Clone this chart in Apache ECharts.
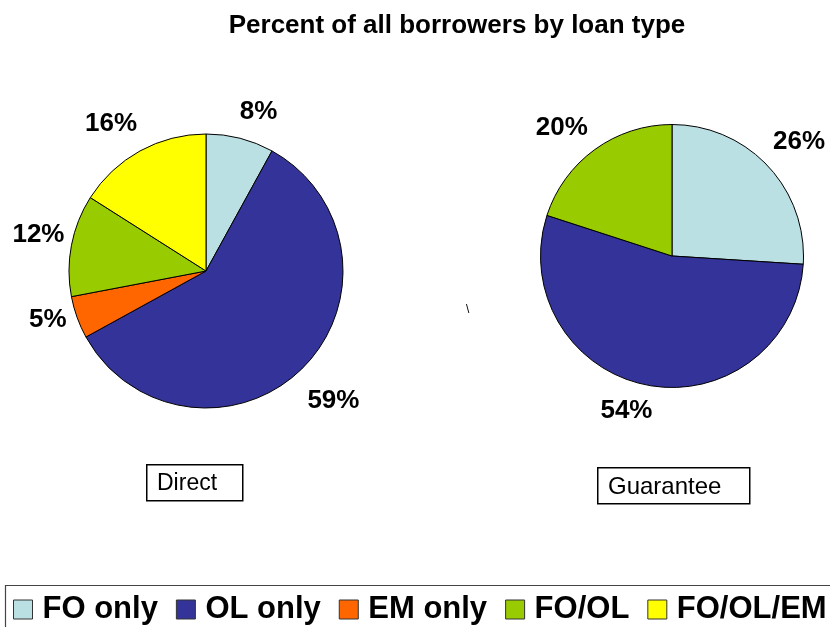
<!DOCTYPE html>
<html>
<head>
<meta charset="utf-8">
<script src="https://cdn.jsdelivr.net/npm/echarts@6/dist/echarts.min.js"></script>
<style>
html,body{margin:0;padding:0;background:#fff;}
#chart{width:830px;height:627px;}
</style>
</head>
<body>
<div id="chart"></div>
<script>
// ---- data ----
var categories = ['FO only', 'OL only', 'EM only', 'FO/OL', 'FO/OL/EM'];
var directValues = [8, 59, 5, 12, 16];
var guaranteeCategories = ['FO only', 'OL only', 'FO/OL'];
var guaranteeValues = [26, 54, 20];
var chartTitle = 'Percent of all borrowers by loan type';
var panelTitles = ['Direct', 'Guarantee'];

// ---- style ----
var colors = {
  'FO only': '#BBE0E3',
  'OL only': '#333399',
  'EM only': '#FF6600',
  'FO/OL': '#99CC00',
  'FO/OL/EM': '#FFFF00'
};
// label placement tweaks (labelLine length / length2), per slice
var directLabelOffsets = [[27, -7], [46, -28], [8, 3], [58, -50], [31, -12]];
var guaranteeLabelOffsets = [[36, -21], [26, -10], [27, -9]];

var FONT = '"Liberation Sans", Arial, sans-serif';

function buildData(names, values, offsets) {
  return names.map(function (n, i) {
    return {
      name: n,
      value: values[i],
      itemStyle: { color: colors[n] },
      labelLine: { show: false, length: offsets[i][0], length2: offsets[i][1] }
    };
  });
}

var pieCommon = {
  type: 'pie',
  startAngle: 90,
  clockwise: true,
  avoidLabelOverlap: false,
  animation: false,
  silent: true,
  itemStyle: { borderColor: '#000', borderWidth: 1 },
  label: {
    show: true,
    position: 'outside',
    formatter: function (p) { return Math.round(p.percent) + '%'; },
    fontFamily: FONT,
    fontWeight: 'bold',
    fontSize: 26,
    color: '#000',
    distanceToLabelLine: 0
  },
  labelLine: { show: false },
  emphasis: { disabled: true }
};

var chart = echarts.init(document.getElementById('chart'), null, { renderer: 'canvas' });
chart.setOption({
  backgroundColor: '#fff',
  animation: false,
  title: {
    text: chartTitle,
    left: 457,
    textAlign: 'center',
    top: 13,
    padding: 0,
    textStyle: { fontFamily: FONT, fontWeight: 'bold', fontSize: 26, color: '#000' }
  },
  legend: {
    data: categories,
    left: 13,
    top: 594,
    width: 1200,
    padding: 0,
    orient: 'horizontal',
    icon: 'rect',
    itemWidth: 19,
    itemHeight: 19,
    itemGap: 18,
    itemStyle: { borderColor: '#333', borderWidth: 1 },
    textStyle: { fontFamily: FONT, fontWeight: 'bold', fontSize: 31, color: '#000', padding: [0, 0, 0, 5], lineHeight: 30 },
    selectedMode: false
  },
  series: [
    Object.assign({}, pieCommon, {
      name: 'Direct',
      center: [206, 271],
      radius: [0, 137],
      data: buildData(categories, directValues, directLabelOffsets)
    }),
    Object.assign({}, pieCommon, {
      name: 'Guarantee',
      center: [672, 256],
      radius: [0, 131.5],
      data: buildData(guaranteeCategories, guaranteeValues, guaranteeLabelOffsets)
    })
  ],
  graphic: [
    {
      type: 'rect', left: 146, top: 464,
      shape: { width: 96, height: 36 },
      style: { fill: '#fff', stroke: '#000', lineWidth: 1.5 }
    },
    {
      type: 'text', left: 157, top: 472,
      style: { text: panelTitles[0], font: '23px ' + FONT, fill: '#000' }
    },
    {
      type: 'rect', left: 597, top: 467,
      shape: { width: 152, height: 36 },
      style: { fill: '#fff', stroke: '#000', lineWidth: 1.5 }
    },
    {
      type: 'text', left: 608, top: 475,
      style: { text: panelTitles[1], font: '24px ' + FONT, fill: '#000' }
    },
    {
      type: 'rect', left: 3, top: 583,
      shape: { width: 840, height: 60 },
      style: { fill: 'none', stroke: '#444', lineWidth: 1.2 }
    },
    {
      type: 'text', left: 466, top: 304,
      style: { text: '\\', font: '12px ' + FONT, fill: '#000' }
    }
  ]
});
</script>
</body>
</html>
